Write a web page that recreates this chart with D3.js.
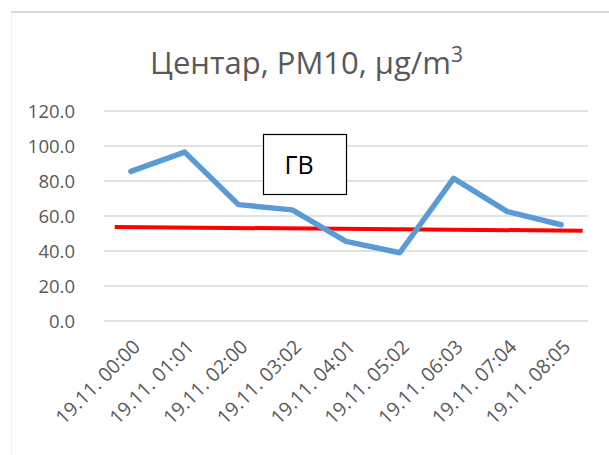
<!DOCTYPE html>
<html><head><meta charset="utf-8">
<script src="https://cdn.jsdelivr.net/npm/d3@7"></script>
<style>html,body{margin:0;padding:0;background:#fff;}svg{display:block;}</style>
</head><body>
<svg id="c" width="609" height="455"></svg>
<script>
const categories = ["19.11. 00:00","19.11. 01:01","19.11. 02:00","19.11. 03:02","19.11. 04:01","19.11. 05:02","19.11. 06:03","19.11. 07:04","19.11. 08:05"];
const pm10 = [85.5, 96.5, 66.5, 63.5, 45.5, 39.0, 81.5, 62.5, 55.0];
const limitPos = [-0.3, 8.4];      // category index positions of the drawn limit line ends
const limitVals = [53.7, 51.6];
const yTicks = [0, 20, 40, 60, 80, 100, 120];
const titleText = "Центар, PM10, µg/m";
const titleSup = "3";
const boxLabel = "ГВ";

const svg = d3.select("#c");
const font = "'Open Sans', 'DejaVu Sans', sans-serif";
const L = 104, R = 588, T = 111, B = 321;

// chart border
svg.append("line").attr("x1",11).attr("x2",609).attr("y1",12).attr("y2",12).attr("stroke","#d9d9d9").attr("stroke-width",2);
svg.append("line").attr("x1",11.5).attr("x2",11.5).attr("y1",12).attr("y2",455).attr("stroke","#f0f0f0").attr("stroke-width",1);

const x = d3.scalePoint().domain(categories).range([L, R]).padding(0.5);
const xi = d3.scaleLinear().domain([0, categories.length-1]).range([x(categories[0]), x(categories[categories.length-1])]);
const y = d3.scaleLinear().domain([0, 120]).range([B, T]);

// gridlines
svg.append("g").selectAll("line").data(yTicks).join("line")
  .attr("x1",L).attr("x2",R).attr("y1",d=>y(d)).attr("y2",d=>y(d))
  .attr("stroke","#d9d9d9").attr("stroke-width",1.3);

// y axis labels
const yAxis = d3.axisLeft(y).tickValues(yTicks).tickFormat(d3.format(".1f")).tickSize(0).tickPadding(0);
const yg = svg.append("g").attr("transform",`translate(${L-29},0)`).call(yAxis);
yg.select(".domain").remove();
yg.selectAll("text").attr("font-family",font).attr("font-size",18.5).attr("fill","#595959").attr("dy","0.35em");

// x axis labels
const xAxis = d3.axisBottom(x).tickSize(0).tickPadding(0);
const xg = svg.append("g").attr("transform",`translate(0,${B})`).call(xAxis);
xg.select(".domain").remove();
xg.selectAll("text").attr("font-family",font).attr("font-size",19.5).attr("fill","#595959")
  .attr("text-anchor","end").attr("dy",null).attr("y",null)
  .attr("transform","translate(10,27) rotate(-45)");

// limit line
svg.append("line")
  .attr("x1",xi(limitPos[0])).attr("y1",y(limitVals[0]))
  .attr("x2",xi(limitPos[1])).attr("y2",y(limitVals[1]))
  .attr("stroke","#ff0000").attr("stroke-width",4);

// data line
const line = d3.line().x((d,i)=>x(categories[i])).y(d=>y(d));
svg.append("path").datum(pm10).attr("d",line).attr("fill","none")
  .attr("stroke","#5b9bd5").attr("stroke-width",5.5).attr("stroke-linejoin","round").attr("stroke-linecap","round");

// text box
svg.append("rect").attr("x",263.5).attr("y",134.5).attr("width",83).attr("height",60)
  .attr("fill","#fff").attr("stroke","#000").attr("stroke-width",1.2);
svg.append("text").attr("x",299).attr("y",174).attr("text-anchor","middle")
  .attr("font-family",font).attr("font-size",25).attr("fill","#000").text(boxLabel);

// title
const tt = svg.append("text").attr("x",306.5).attr("y",74).attr("text-anchor","middle")
  .attr("font-family",font).attr("font-size",31).attr("fill","#595959");
tt.append("tspan").text(titleText);
tt.append("tspan").attr("dy",-12).attr("font-size",21).text(titleSup);
</script>
</body></html>
